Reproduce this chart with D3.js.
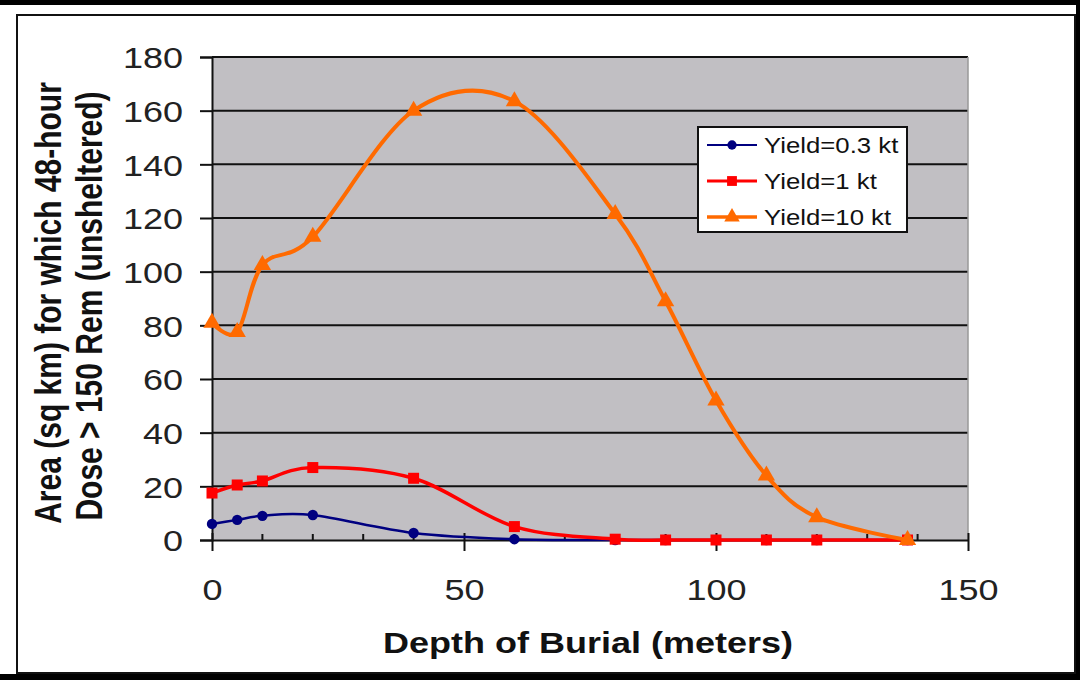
<!DOCTYPE html>
<html>
<head>
<meta charset="utf-8">
<script src="https://cdn.jsdelivr.net/npm/d3@7"></script>
<style>
  body { margin: 0; background: #000; }
  svg { display: block; font-family: "Liberation Sans", Arial, sans-serif; }
</style>
</head>
<body>
<svg width="1080" height="680"></svg>
<script>
// depth of burial (m) and area (sq km) per yield
var depths = [0, 5, 10, 20, 40, 60, 80, 90, 100, 110, 120, 138];
var yieldSmall = [6, 7.5, 9, 9.3, 2.6, 0.3, 0, 0, 0, 0, 0, 0];
var yieldMid = [17.5, 20.5, 22, 27, 23, 5, 0.3, 0, 0, 0, 0, 0];
var yieldBig = [81, 77.5, 102.5, 113, 160, 163.5, 121.5, 89, 52, 24, 8.5, 0];
var seriesNames = ["Yield=0.3 kt", "Yield=1 kt", "Yield=10 kt"];
var xTicks = [0, 50, 100, 150];
var yTicks = [0, 20, 40, 60, 80, 100, 120, 140, 160, 180];

var svg = d3.select("svg");
var stretch = 1.2; // the source picture is a bit wider than tall

svg.append("rect").attr("width", 1080).attr("height", 680).attr("fill", "#000");
svg.append("rect").attr("x", 0).attr("y", 5).attr("width", 1076).attr("height", 669).attr("fill", "#fff");
svg.append("rect").attr("x", 17).attr("y", 15).attr("width", 1058).attr("height", 658)
  .attr("fill", "none").attr("stroke", "#111").attr("stroke-width", 2);

var plotL = 212, plotR = 968, plotT = 57, plotB = 540;

var x = d3.scaleLinear().domain([0, 150]).range([plotL, plotR]);
var y = d3.scaleLinear().domain([0, 180]).range([plotB, plotT]);

svg.append("rect")
  .attr("x", plotL).attr("y", plotT)
  .attr("width", plotR - plotL).attr("height", plotB - plotT)
  .attr("fill", "#c1bfc3");

// gridlines
svg.append("g").selectAll("line")
  .data(yTicks.slice(1))
  .enter().append("line")
  .attr("x1", plotL).attr("x2", plotR)
  .attr("y1", function (d) { return y(d); })
  .attr("y2", function (d) { return y(d); })
  .attr("stroke", "#111").attr("stroke-width", 2);

// plot right edge
svg.append("line")
  .attr("x1", plotR).attr("x2", plotR).attr("y1", plotT).attr("y2", plotB)
  .attr("stroke", "#999").attr("stroke-width", 1.5);

// y axis
var yAxis = svg.append("g")
  .attr("transform", "translate(" + plotL + ",0)")
  .call(d3.axisLeft(y).tickValues(yTicks).tickSize(12).tickPadding(29));
yAxis.select(".domain").attr("stroke", "#111").attr("stroke-width", 2);
yAxis.selectAll(".tick line").attr("stroke", "#111").attr("stroke-width", 2);
yAxis.selectAll("text")
  .attr("font-size", 30).attr("fill", "#222")
  .attr("x", 0).attr("dy", "0.36em")
  .attr("transform", "translate(-29,0) scale(" + stretch + ",1)");

// x axis
var xAxis = svg.append("g")
  .attr("transform", "translate(0," + plotB + ")")
  .call(d3.axisBottom(x).tickValues(xTicks).tickSizeInner(11).tickSizeOuter(0));
xAxis.select(".domain").attr("stroke", "#111").attr("stroke-width", 2);
xAxis.selectAll(".tick line").attr("stroke", "#111").attr("stroke-width", 2).attr("y1", -7);
xAxis.selectAll("text")
  .attr("font-size", 30).attr("fill", "#222")
  .attr("y", 0).attr("dy", 0)
  .attr("transform", "translate(0,60) scale(" + stretch + ",1)");

// minor ticks every 10
svg.append("g").selectAll("line")
  .data(d3.range(10, 150, 10).filter(function (d) { return d % 50 != 0; }))
  .enter().append("line")
  .attr("x1", function (d) { return x(d); })
  .attr("x2", function (d) { return x(d); })
  .attr("y1", plotB - 6).attr("y2", plotB)
  .attr("stroke", "#111").attr("stroke-width", 2);

var series = [
  { name: seriesNames[0], values: yieldSmall, color: "#000080", width: 2.5, shape: d3.symbolCircle, size: 85 },
  { name: seriesNames[1], values: yieldMid, color: "#ff0000", width: 3.5, shape: d3.symbolSquare, size: 121 },
  { name: seriesNames[2], values: yieldBig, color: "#ff6a00", width: 4, shape: d3.symbolTriangle, size: 130 }
];

var line = d3.line()
  .x(function (d) { return x(d[0]); })
  .y(function (d) { return y(d[1]); })
  .curve(d3.curveCardinal.tension(0));

series.forEach(function (s) {
  var pts = depths.map(function (d, i) { return [d, s.values[i]]; });
  svg.append("path")
    .datum(pts)
    .attr("d", line)
    .attr("fill", "none")
    .attr("stroke", s.color)
    .attr("stroke-width", s.width);
  svg.append("g").selectAll("path")
    .data(pts)
    .enter().append("path")
    .attr("transform", function (d) { return "translate(" + x(d[0]) + "," + y(d[1]) + ")"; })
    .attr("d", d3.symbol().type(s.shape).size(s.size))
    .attr("fill", s.color);
});

// legend
var legend = svg.append("g").attr("transform", "translate(698,127)");
legend.append("rect")
  .attr("width", 209).attr("height", 105)
  .attr("fill", "#fff").attr("stroke", "#111").attr("stroke-width", 2);
series.forEach(function (s, i) {
  var ly = 18 + i * 36;
  legend.append("line")
    .attr("x1", 9).attr("x2", 59).attr("y1", ly).attr("y2", ly)
    .attr("stroke", s.color).attr("stroke-width", s.width - 0.5);
  legend.append("path")
    .attr("transform", "translate(34," + ly + ")")
    .attr("d", d3.symbol().type(s.shape).size(s.size * 0.8))
    .attr("fill", s.color);
  legend.append("text")
    .attr("transform", "translate(66," + (ly + 8) + ") scale(1.12,1)")
    .attr("font-size", 23)
    .attr("fill", "#111")
    .text(s.name);
});

// axis titles
svg.append("text")
  .attr("transform", "translate(588,653) scale(" + stretch + ",1)")
  .attr("text-anchor", "middle")
  .attr("font-size", 30).attr("font-weight", "bold")
  .attr("fill", "#111")
  .text("Depth of Burial (meters)");

var yTitles = ["Area (sq km) for which 48-hour", "Dose > 150 Rem (unsheltered)"];
var yTitlePos = [[61, 303], [102, 306]];
yTitles.forEach(function (t, i) {
  svg.append("text")
    .attr("transform", "translate(" + yTitlePos[i][0] + "," + yTitlePos[i][1] + ") scale(" + stretch + ",1) rotate(-90)")
    .attr("text-anchor", "middle")
    .attr("font-size", 30).attr("font-weight", "bold")
    .attr("fill", "#111")
    .text(t);
});
</script>
</body>
</html>
